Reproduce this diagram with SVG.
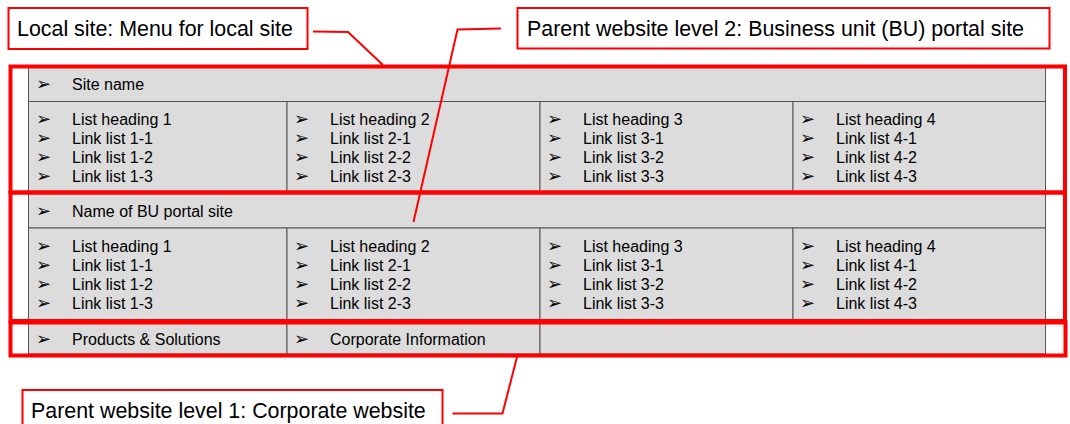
<svg xmlns="http://www.w3.org/2000/svg" width="1070" height="424" viewBox="0 0 1070 424">
<style>
.cell{fill:#dcdcdc;stroke:#555;stroke-width:1}
.t{font-family:"Liberation Sans",Arial,sans-serif;font-size:16px;fill:#000}
.b{font-family:"DejaVu Sans",sans-serif;font-size:18px;fill:#000}
.lbl{fill:#fff;stroke:#f00;stroke-width:2}
.lt{font-family:"Liberation Sans",Arial,sans-serif;font-size:21.4px;fill:#000}
.zone{fill:none;stroke:#f00;stroke-width:4}
.conn{fill:none;stroke:#f00;stroke-width:2}
</style>
<rect width="1070" height="424" fill="#fff"/>
<g id="row-site-name">
<rect class="cell" x="28.5" y="67" width="1017" height="34.5"/>
<text class="b" x="36" y="90">➢</text><text class="t" x="72" y="90">Site name</text>
</g>
<g id="row-local-lists">
<rect class="cell" x="28.5" y="101.5" width="258.5" height="91.5"/>
<rect class="cell" x="287" y="101.5" width="253" height="91.5"/>
<rect class="cell" x="540" y="101.5" width="253" height="91.5"/>
<rect class="cell" x="793" y="101.5" width="252.5" height="91.5"/>
<g class="b">
<text x="36" y="125">➢</text><text x="36" y="144">➢</text><text x="36" y="163">➢</text><text x="36" y="182">➢</text>
<text x="294" y="125">➢</text><text x="294" y="144">➢</text><text x="294" y="163">➢</text><text x="294" y="182">➢</text>
<text x="547" y="125">➢</text><text x="547" y="144">➢</text><text x="547" y="163">➢</text><text x="547" y="182">➢</text>
<text x="800" y="125">➢</text><text x="800" y="144">➢</text><text x="800" y="163">➢</text><text x="800" y="182">➢</text>
</g>
<g class="t">
<text x="72" y="125">List heading 1</text><text x="72" y="144">Link list 1-1</text><text x="72" y="163">Link list 1-2</text><text x="72" y="182">Link list 1-3</text>
<text x="330" y="125">List heading 2</text><text x="330" y="144">Link list 2-1</text><text x="330" y="163">Link list 2-2</text><text x="330" y="182">Link list 2-3</text>
<text x="583" y="125">List heading 3</text><text x="583" y="144">Link list 3-1</text><text x="583" y="163">Link list 3-2</text><text x="583" y="182">Link list 3-3</text>
<text x="836" y="125">List heading 4</text><text x="836" y="144">Link list 4-1</text><text x="836" y="163">Link list 4-2</text><text x="836" y="182">Link list 4-3</text>
</g>
</g>
<g id="row-bu-name">
<rect class="cell" x="28.5" y="193" width="1017" height="35"/>
<text class="b" x="36" y="217">➢</text><text class="t" x="72" y="217">Name of BU portal site</text>
</g>
<g id="row-bu-lists">
<rect class="cell" x="28.5" y="228" width="258.5" height="92"/>
<rect class="cell" x="287" y="228" width="253" height="92"/>
<rect class="cell" x="540" y="228" width="253" height="92"/>
<rect class="cell" x="793" y="228" width="252.5" height="92"/>
<g class="b">
<text x="36" y="252">➢</text><text x="36" y="271">➢</text><text x="36" y="290">➢</text><text x="36" y="309">➢</text>
<text x="294" y="252">➢</text><text x="294" y="271">➢</text><text x="294" y="290">➢</text><text x="294" y="309">➢</text>
<text x="547" y="252">➢</text><text x="547" y="271">➢</text><text x="547" y="290">➢</text><text x="547" y="309">➢</text>
<text x="800" y="252">➢</text><text x="800" y="271">➢</text><text x="800" y="290">➢</text><text x="800" y="309">➢</text>
</g>
<g class="t">
<text x="72" y="252">List heading 1</text><text x="72" y="271">Link list 1-1</text><text x="72" y="290">Link list 1-2</text><text x="72" y="309">Link list 1-3</text>
<text x="330" y="252">List heading 2</text><text x="330" y="271">Link list 2-1</text><text x="330" y="290">Link list 2-2</text><text x="330" y="309">Link list 2-3</text>
<text x="583" y="252">List heading 3</text><text x="583" y="271">Link list 3-1</text><text x="583" y="290">Link list 3-2</text><text x="583" y="309">Link list 3-3</text>
<text x="836" y="252">List heading 4</text><text x="836" y="271">Link list 4-1</text><text x="836" y="290">Link list 4-2</text><text x="836" y="309">Link list 4-3</text>
</g>
</g>
<g id="row-corporate">
<rect class="cell" x="28.5" y="320" width="258.5" height="34"/>
<rect class="cell" x="287" y="320" width="253" height="34"/>
<rect class="cell" x="540" y="320" width="505.5" height="34"/>
<text class="b" x="36" y="345">➢</text><text class="t" x="72" y="345">Products &amp; Solutions</text>
<text class="b" x="294" y="345">➢</text><text class="t" x="330" y="345">Corporate Information</text>
</g>
<g id="zone-local"><rect class="zone" x="10.5" y="66.5" width="1054.5" height="126"/></g>
<g id="zone-bu"><rect class="zone" x="10.5" y="192.5" width="1054.5" height="128.5"/></g>
<g id="zone-corporate"><rect class="zone" x="10.5" y="322.5" width="1055" height="33"/></g>
<g id="connectors">
<polyline class="conn" points="313,31.5 348,32 383,65"/>
<polyline class="conn" points="501,28.5 457.5,29.5 413.5,222"/>
<polyline class="conn" points="452.5,413.5 502.5,413.5 517.5,355"/>
</g>
<g id="label-local">
<rect class="lbl" x="8.5" y="8" width="299" height="41"/>
<text class="lt" x="17" y="36">Local site: Menu for local site</text>
</g>
<g id="label-bu">
<rect class="lbl" x="517.5" y="8" width="532" height="40.5"/>
<text class="lt" x="527" y="36">Parent website level 2: Business unit (BU) portal site</text>
</g>
<g id="label-corporate">
<rect class="lbl" x="22.5" y="390" width="420" height="40"/>
<text class="lt" x="31" y="418">Parent website level 1: Corporate website</text>
</g>
</svg>
